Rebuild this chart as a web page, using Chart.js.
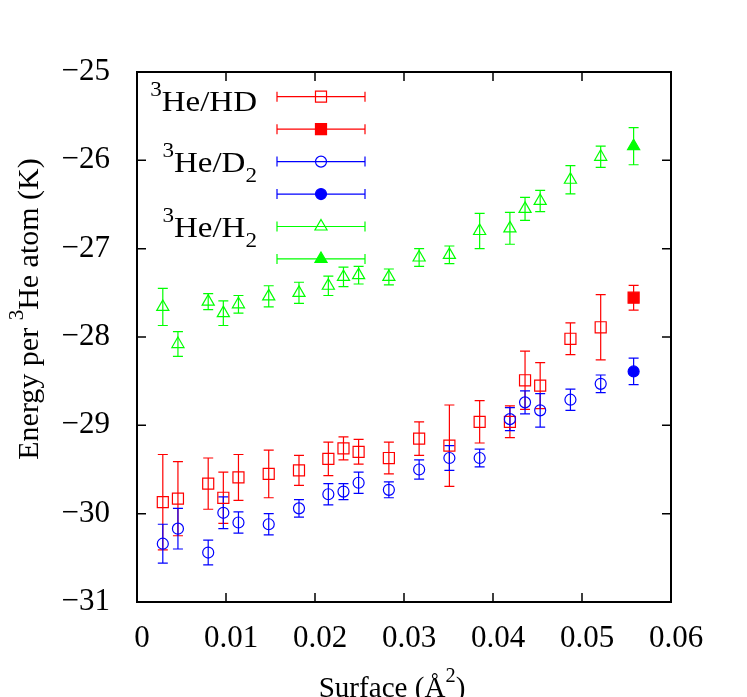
<!DOCTYPE html>
<html>
<head>
<meta charset="utf-8">
<script src="https://cdn.jsdelivr.net/npm/chart.js@4.4.1/dist/chart.umd.min.js"></script>
<style>
  html, body { margin: 0; padding: 0; background: #fff; }
  canvas { display: block; }
</style>
</head>
<body>
<canvas id="energyChart" width="747" height="697"></canvas>
<script>
// surface values (1/Å^2) shared by the three open series
const surface = [0.0029, 0.0046, 0.0080, 0.0097, 0.0114, 0.0148, 0.0182, 0.0215, 0.0232, 0.0249,
                 0.0283, 0.0317, 0.0351, 0.0385, 0.0419, 0.0436, 0.0453, 0.0487, 0.0521];

const hdEnergy = [-29.87, -29.83, -29.66, -29.82, -29.59, -29.55, -29.51, -29.38, -29.26, -29.30,
                  -29.37, -29.15, -29.23, -28.96, -28.96, -28.49, -28.55, -28.02, -27.89];
const hdErr = [0.54, 0.42, 0.29, 0.29, 0.26, 0.27, 0.17, 0.19, 0.13, 0.14,
               0.18, 0.19, 0.46, 0.24, 0.18, 0.33, 0.26, 0.18, 0.37];

const d2Energy = [-30.34, -30.17, -30.44, -29.99, -30.10, -30.12, -29.94, -29.78, -29.75, -29.65,
                  -29.73, -29.50, -29.37, -29.37, -28.93, -28.74, -28.83, -28.71, -28.53];
const d2Err = [0.22, 0.23, 0.14, 0.18, 0.12, 0.12, 0.10, 0.12, 0.09, 0.12,
               0.09, 0.11, 0.14, 0.10, 0.13, 0.13, 0.19, 0.12, 0.10];

const h2Energy = [-27.66, -28.08, -27.60, -27.73, -27.63, -27.54, -27.50, -27.42, -27.32, -27.30,
                  -27.32, -27.10, -27.07, -26.80, -26.77, -26.55, -26.46, -26.22, -25.96];
const h2Err = [0.21, 0.14, 0.09, 0.14, 0.10, 0.12, 0.12, 0.11, 0.11, 0.10,
               0.09, 0.10, 0.10, 0.20, 0.18, 0.13, 0.12, 0.16, 0.12];

// single filled points
const filledSurface = [0.0558];
const hdFilled = [-27.555];
const hdFilledErr = [0.14];
const d2Filled = [-28.39];
const d2FilledErr = [0.15];
const h2Filled = [-25.84];
const h2FilledErr = [0.21];

const legendTitles = [
  [['3', 'sup'], ['He/HD', '']],
  [['3', 'sup'], ['He/D', ''], ['2', 'sub']],
  [['3', 'sup'], ['He/H', ''], ['2', 'sub']]
];

const FONT = '"Liberation Serif", "Times New Roman", serif';
const RED = '#ff0000', BLUE = '#0000ff', GREEN = '#00ff00';

function toPts(xs, ys) {
  return xs.map((x, i) => ({ x: x, y: ys[i] }));
}

// draws text with super/subscripts; sx stretches it sideways
function richText(ctx, x, y, parts, align, sx) {
  sx = sx || 1;
  let total = 0;
  const widths = parts.map(p => {
    ctx.font = (p[1] ? 21 : 30) + 'px ' + FONT;
    const w = ctx.measureText(p[0]).width * sx;
    total += w;
    return w;
  });
  let cx = align === 'right' ? x - total : align === 'center' ? x - total / 2 : x;
  ctx.textAlign = 'left';
  ctx.textBaseline = 'alphabetic';
  parts.forEach((p, i) => {
    ctx.font = (p[1] ? 21 : 30) + 'px ' + FONT;
    const dy = p[1] === 'sup' ? -15 : p[1] === 'sub' ? 10 : 0;
    ctx.save();
    ctx.translate(cx, y + dy);
    ctx.scale(sx, 1);
    ctx.fillText(p[0], 0, 0);
    ctx.restore();
    cx += widths[i];
  });
}

function makeSet(label, data, errs, color, style, radius, filled, order) {
  return {
    label: label,
    data: data,
    errors: errs,
    order: order,
    pointStyle: style,
    pointRadius: radius,
    pointHoverRadius: radius,
    borderWidth: 1.2,
    borderColor: color,
    backgroundColor: filled ? color : 'rgba(0,0,0,0)',
    showLine: false
  };
}

const errorBars = {
  id: 'errorBars',
  beforeDatasetsDraw(chart) {
    const { ctx, scales: { x, y } } = chart;
    ctx.save();
    ctx.lineWidth = 1.2;
    chart.data.datasets.forEach(ds => {
      ctx.strokeStyle = ds.borderColor;
      ds.data.forEach((p, i) => {
        const px = x.getPixelForValue(p.x);
        const top = y.getPixelForValue(p.y + ds.errors[i]);
        const bot = y.getPixelForValue(p.y - ds.errors[i]);
        ctx.beginPath();
        ctx.moveTo(px, top); ctx.lineTo(px, bot);
        ctx.moveTo(px - 5, top); ctx.lineTo(px + 5, top);
        ctx.moveTo(px - 5, bot); ctx.lineTo(px + 5, bot);
        ctx.stroke();
      });
    });
    ctx.restore();
  }
};

const frameAndText = {
  id: 'frameAndText',
  afterDraw(chart) {
    const { ctx, chartArea: a, scales: { x, y } } = chart;
    ctx.save();
    ctx.strokeStyle = '#000';
    ctx.lineWidth = 2;
    ctx.strokeRect(a.left, a.top, a.right - a.left, a.bottom - a.top);
    ctx.lineWidth = 1.5;
    ctx.beginPath();
    x.ticks.forEach(t => {
      const px = x.getPixelForValue(t.value);
      if (px <= a.left + 1 || px >= a.right - 1) return;
      ctx.moveTo(px, a.bottom); ctx.lineTo(px, a.bottom - 9);
      ctx.moveTo(px, a.top); ctx.lineTo(px, a.top + 9);
    });
    y.ticks.forEach(t => {
      const py = y.getPixelForValue(t.value);
      if (py <= a.top + 1 || py >= a.bottom - 1) return;
      ctx.moveTo(a.left, py); ctx.lineTo(a.left + 9, py);
      ctx.moveTo(a.right, py); ctx.lineTo(a.right - 9, py);
    });
    ctx.stroke();

    // axis titles
    ctx.fillStyle = '#000';
    richText(ctx, 392, 697, [['Surface (Å', ''], ['2', 'sup'], [')', '']], 'center', 0.97);
    ctx.save();
    ctx.translate(38, 309);
    ctx.rotate(-Math.PI / 2);
    richText(ctx, 0, 0, [['Energy per ', ''], ['3', 'sup'], ['He atom (K)', '']], 'center');
    ctx.restore();

    // key
    const sets = chart.data.datasets;
    const titleBase = [38.7, 99.7, 164.7];
    legendTitles.forEach((parts, k) => {
      richText(ctx, a.left + 120, a.top + titleBase[k], parts, 'right', 1.1);
    });
    sets.forEach((ds, k) => {
      const ry = a.top + 24.7 + 32.45 * k;
      const x0 = a.left + 140, x1 = a.left + 228;
      ctx.strokeStyle = ds.borderColor;
      ctx.lineWidth = 1.2;
      ctx.beginPath();
      ctx.moveTo(x0, ry); ctx.lineTo(x1, ry);
      ctx.moveTo(x0, ry - 5); ctx.lineTo(x0, ry + 5);
      ctx.moveTo(x1, ry - 5); ctx.lineTo(x1, ry + 5);
      ctx.stroke();
      ctx.fillStyle = ds.backgroundColor;
      Chart.helpers.drawPoint(ctx, {
        pointStyle: ds.pointStyle,
        radius: ds.pointRadius,
        borderWidth: ds.borderWidth,
        rotation: 0
      }, a.left + 184, ry);
    });
    ctx.restore();
  }
};

new Chart(document.getElementById('energyChart').getContext('2d'), {
  type: 'scatter',
  data: {
    datasets: [
      makeSet('3He/HD', toPts(surface, hdEnergy), hdErr, RED, 'rect', 7.8, false, 5),
      makeSet('3He/HD filled', toPts(filledSurface, hdFilled), hdFilledErr, RED, 'rect', 7.8, true, 4),
      makeSet('3He/D2', toPts(surface, d2Energy), d2Err, BLUE, 'circle', 5.5, false, 3),
      makeSet('3He/D2 filled', toPts(filledSurface, d2Filled), d2FilledErr, BLUE, 'circle', 5.5, true, 2),
      makeSet('3He/H2', toPts(surface, h2Energy), h2Err, GREEN, 'triangle', 7, false, 1),
      makeSet('3He/H2 filled', toPts(filledSurface, h2Filled), h2FilledErr, GREEN, 'triangle', 7, true, 0)
    ]
  },
  options: {
    responsive: false,
    animation: false,
    devicePixelRatio: 1,
    layout: { padding: { top: 72, right: 76, left: 0, bottom: 0 } },
    plugins: {
      legend: { display: false },
      tooltip: { enabled: false }
    },
    scales: {
      x: {
        type: 'linear',
        min: 0,
        max: 0.06,
        afterFit: s => { s.height = 95; },
        grid: { display: false },
        border: { display: false },
        ticks: {
          stepSize: 0.01,
          padding: 10,
          labelOffset: 5,
          color: '#000',
          font: { family: FONT, size: 31 },
          callback: v => (Math.abs(v) < 1e-9 ? '0' : v.toFixed(2))
        }
      },
      y: {
        type: 'linear',
        min: -31,
        max: -25,
        afterFit: s => { s.width = 137; },
        grid: { display: false },
        border: { display: false },
        ticks: {
          stepSize: 1,
          padding: 19,
          color: '#000',
          font: { family: FONT, size: 31 },
          callback: v => (v < 0 ? '\u2212' : '') + Math.abs(v)
        }
      }
    }
  },
  plugins: [errorBars, frameAndText]
});
</script>
</body>
</html>
